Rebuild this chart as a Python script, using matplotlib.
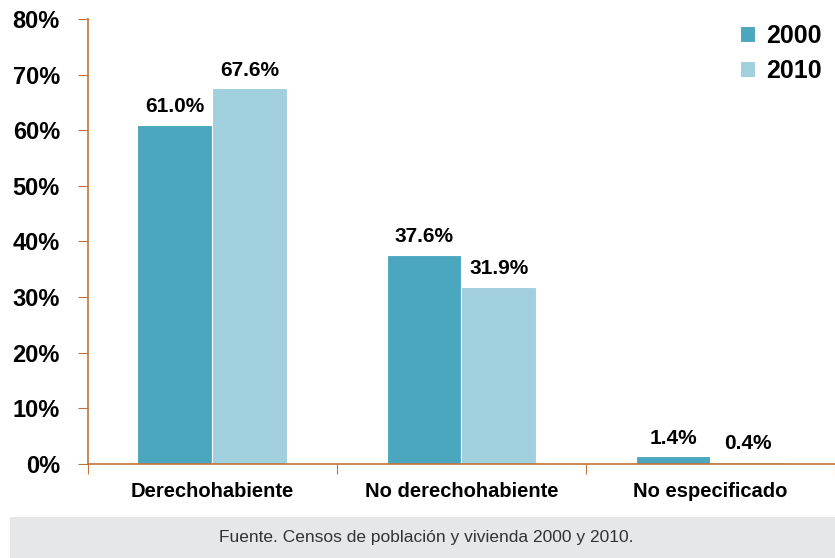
import numpy as np
import matplotlib.pyplot as plt
from matplotlib.patches import Rectangle

categories = ["Derechohabiente", "No derechohabiente", "No especificado"]
years = ["2000", "2010"]
values_2000 = [61.0, 37.6, 1.4]
values_2010 = [67.6, 31.9, 0.4]
y_ticks = [0, 10, 20, 30, 40, 50, 60, 70, 80]
source = "Fuente. Censos de población y vivienda 2000 y 2010."

color_2000 = "#4BA7BD"
color_2010 = "#A0CFDD"
spine_color = "#C0733A"
font = ["Liberation Sans", "DejaVu Sans"]

fig = plt.figure(figsize=(8.35, 5.58), dpi=100)
ax = fig.add_axes([0.105, 0.1685, 0.895, 0.7975])

x = np.arange(len(categories))
w = 0.3
b1 = ax.bar(x - w / 2, values_2000, w, color=color_2000, edgecolor="white", linewidth=0.8, label=years[0])
b2 = ax.bar(x + w / 2, values_2010, w, color=color_2010, edgecolor="white", linewidth=0.8, label=years[1])

for bars in (b1, b2):
    for r in bars:
        h = r.get_height()
        ax.annotate(f"{h:.1f}%", (r.get_x() + r.get_width() / 2, h), xytext=(0, 6),
                    textcoords="offset points", ha="center", va="bottom",
                    fontsize=15, fontweight="bold", family=font)

ax.set_xlim(-0.5, 2.5)
ax.set_ylim(0, 80)
ax.set_yticks(y_ticks)
ax.set_yticklabels([f"{t}%" for t in y_ticks], fontsize=17, fontweight="bold", family=font)
ax.set_xticks([-0.5, 0.5, 1.5, 2.5])
ax.set_xticklabels([])
ax.set_xticks(x, minor=True)
ax.set_xticklabels(categories, minor=True, fontsize=14.5, fontweight="bold", family=font)
ax.tick_params(axis="x", which="minor", length=0, pad=13)
ax.tick_params(axis="x", which="major", length=7, color=spine_color, direction="out")
ax.tick_params(axis="y", length=7, color=spine_color, pad=13)

for s in ["top", "right"]:
    ax.spines[s].set_visible(False)
for s in ["left", "bottom"]:
    ax.spines[s].set_color(spine_color)
    ax.spines[s].set_linewidth(1.2)

leg = ax.legend(loc="upper right", bbox_to_anchor=(1.012, 1.04), frameon=False,
                prop={"family": font, "weight": "bold", "size": 18},
                handlelength=0.6, handleheight=0.6, handletextpad=0.45, labelspacing=0.45)

fig.patches.append(Rectangle((0.012, 0), 0.988, 0.073, transform=fig.transFigure,
                             facecolor="#E6E7E8", edgecolor="none", zorder=0))
fig.text(0.51, 0.036, source, ha="center", va="center", fontsize=12.5, color="#333333", family=font)

fig.savefig("out.png", dpi=100)
